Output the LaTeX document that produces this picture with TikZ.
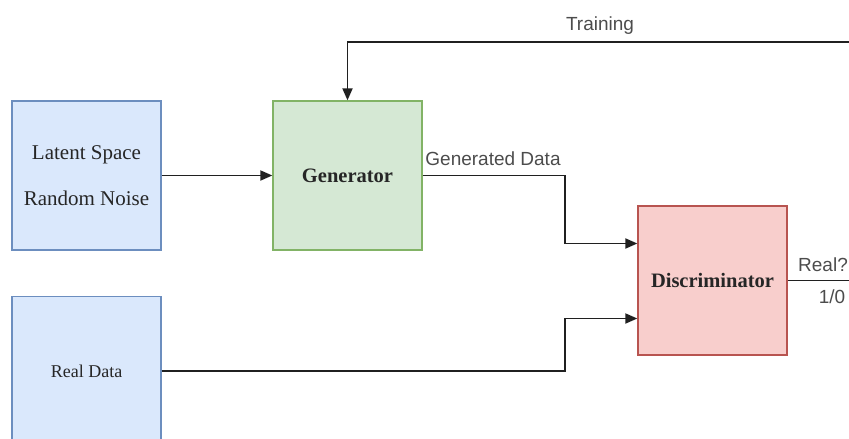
\documentclass[tikz,border=0pt]{standalone}
\usepackage{fontspec}
\setmainfont{Liberation Serif}
\newfontfamily\lsans{Liberation Sans}
\usetikzlibrary{arrows.meta}
\definecolor{bfill}{HTML}{DAE8FC}\definecolor{bline}{HTML}{6C8EBF}
\definecolor{gfill}{HTML}{D5E8D4}\definecolor{gline}{HTML}{82B366}
\definecolor{rfill}{HTML}{F8CECC}\definecolor{rline}{HTML}{B85450}
\definecolor{wire}{HTML}{202020}
\begin{document}
\begin{tikzpicture}[x=1pt,y=-1pt,
  boxs/.style={minimum width=149pt,minimum height=149pt,inner sep=0pt,line width=1.3pt,align=center,text=black!85},
  blue/.style={boxs,fill=bfill,draw=bline},
  green/.style={boxs,fill=gfill,draw=gline},
  red/.style={boxs,fill=rfill,draw=rline},
  conn/.style={draw=wire,line width=1.8pt,-{Triangle[length=12pt,width=10pt]}},
  lab/.style={font=\lsans\fontsize{19}{22}\selectfont,text=black!70,inner sep=1pt}]
\useasboundingbox (0,0) rectangle (849,439);
\node[blue] (lat) at (86.5,175.5) {\fontsize{21}{25}\selectfont Latent Space\\[26pt]\fontsize{21}{25}\selectfont Random Noise};
\node[green] (gen) at (347.5,175.5) {\fontsize{20.5}{24}\selectfont\bfseries Generator};
\node[blue] (real) at (86.5,371) {\fontsize{18}{21}\selectfont Real Data};
\node[red] (dis) at (712.5,280.5) {\fontsize{20.5}{24}\selectfont\bfseries Discriminator};
\coordinate (tr) at (849,42);
\coordinate (out) at (849,280.5);
\draw[conn] (lat.east) -- (gen.west);
\draw[conn] (gen.east) -- (565,175.5) |- ([yshift=37pt]dis.west);
\draw[conn] (real.east) -- (565,371) |- ([yshift=-38pt]dis.west);
\draw[conn] (tr) -| (gen.north);
\draw[draw=wire,line width=1.8pt] (dis.east) -- (out);
\node[lab] (lg) at (493,159) {Generated Data};
\node[lab] (lt) at (600,26) {Training};
\node[lab] (lr) at (823,265) {Real?};
\node[lab] (lo) at (832,297) {1/0};
\end{tikzpicture}
\end{document}
